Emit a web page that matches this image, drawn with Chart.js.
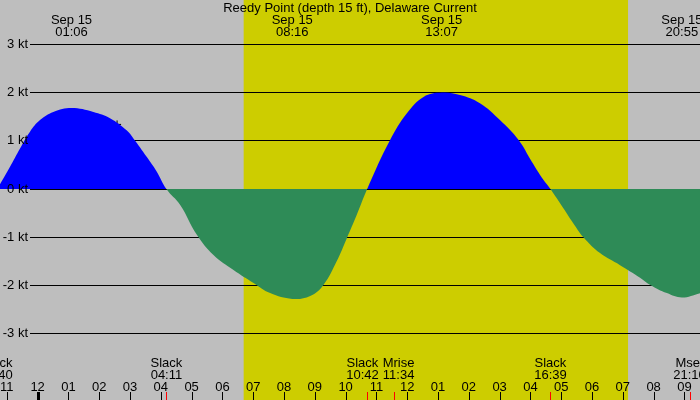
<!DOCTYPE html>
<html>
<head>
<meta charset="utf-8">
<title>Reedy Point current</title>
<script src="https://cdn.jsdelivr.net/npm/chart.js@4.4.1/dist/chart.umd.min.js"></script>
<style>
  html, body { margin: 0; padding: 0; background: #bebebe; }
  canvas { display: block; }
</style>
</head>
<body>
<canvas id="tide" width="700" height="400"></canvas>
<script>
"use strict";

const title = 'Reedy Point (depth 15 ft), Delaware Current'

// hours from midnight Sep 15 (negative = evening of Sep 14)
const hours = [-1.33, -1.221, -0.896, -0.571, -0.247, 0.078, 0.51, 1.10, 1.81, 2.35, 2.89, 3.11, 3.54, 3.87, 4.18,
	4.63, 5.17, 5.71, 6.36, 7.01, 7.55, 8.27, 8.85, 9.28, 9.71, 10.04, 10.36, 10.70,
	11.44, 11.99, 12.53, 13.12, 13.71, 14.36, 15.01, 15.61, 16.04, 16.42, 16.65,
	17.07, 17.39, 17.72, 18.26, 18.91, 19.56, 19.89, 20.43, 20.92, 21.51]
// current speed in knots (flood +, ebb -)
const knots = [0, 0.10, 0.46, 0.84, 1.19, 1.43, 1.60, 1.68, 1.60, 1.47, 1.22, 1.05, 0.67, 0.36, 0,
	-0.33, -0.95, -1.37, -1.68, -1.95, -2.16, -2.28, -2.22, -1.99, -1.50, -1.02, -0.54, 0,
	1.01, 1.57, 1.91, 2.00, 1.95, 1.78, 1.43, 1.02, 0.57, 0.19, 0,
	-0.40, -0.71, -1.00, -1.33, -1.58, -1.84, -1.99, -2.16, -2.25, -2.16]

const speedTicks = [3, 2, 1, 0, -1, -2, -3]

const hourTicks = [-1, 0, 1, 2, 3, 4, 5, 6, 7, 8, 9, 10, 11, 12, 13, 14, 15, 16, 17, 18, 19, 20, 21]
const hourLabels = ['11', '12', '01', '02', '03', '04', '05', '06', '07', '08', '09', '10',
	'11', '12', '01', '02', '03', '04', '05', '06', '07', '08', '09']

// max flood / ebb
const peakHours = [1.10, 8.267, 13.117, 20.917]
const peakDates = ['Sep 15', 'Sep 15', 'Sep 15', 'Sep 15']
const peakClock = ['01:06', '08:16', '13:07', '20:55']

// slack water and moon events
const eventHours = [-1.333, 4.183, 10.70, 11.567, 16.65, 21.167]
const eventNames = ['Slack', 'Slack', 'Slack', 'Mrise', 'Slack', 'Mset']
const eventClock = ['22:40', '04:11', '10:42', '11:34', '16:39', '21:10']

const sunrise = 6.69
const sunset = 19.17

const markHours = [2.58]
const markKnots = [1.34]

const FONT = '13px "Liberation Sans"'

// push apart labels that would collide
function spread(ctx, items, gap) {
	items.forEach(it => { it.w = Math.max(...it.lines.map(l => ctx.measureText(l).width)) })
	for (let i = 1; i < items.length; i++) {
		const a = items[i - 1], b = items[i]
		const need = (a.w + b.w) / 2 + gap
		const d = b.x - a.x
		if (d < need) {
			const s = (need - d) / 2
			a.x -= s
			b.x += s
		}
	}
}

const tidePlugin = {
	id: 'tide',
	beforeDraw(chart) {
		const {ctx, width, height} = chart
		const x = chart.scales.x
		ctx.save()
		ctx.fillStyle = '#bebebe'
		ctx.fillRect(0, 0, width, height)
		const x1 = x.getPixelForValue(sunrise)
		const x2 = x.getPixelForValue(sunset)
		ctx.fillStyle = '#cdcd00'
		ctx.fillRect(x1, 0, x2 - x1, height)
		ctx.restore()
	},
	beforeDatasetsDraw(chart) {
		const {ctx, width} = chart
		const y = chart.scales.y
		ctx.save()
		ctx.strokeStyle = '#000'
		ctx.lineWidth = 1
		speedTicks.forEach(v => {
			const py = Math.floor(y.getPixelForValue(v)) + 0.5
			ctx.beginPath()
			ctx.moveTo(30, py)
			ctx.lineTo(width, py)
			ctx.stroke()
		})
		ctx.restore()
	},
	afterDatasetsDraw(chart) {
		const {ctx, width, height} = chart
		const x = chart.scales.x
		const y = chart.scales.y
		ctx.save()
		ctx.font = FONT
		ctx.fillStyle = '#000'

		// speed labels
		ctx.textAlign = 'right'
		ctx.textBaseline = 'middle'
		speedTicks.forEach(v => {
			ctx.fillText(v + ' kt', 28, Math.floor(y.getPixelForValue(v)) + 0.5)
		})

		ctx.textBaseline = 'alphabetic'
		ctx.textAlign = 'center'
		ctx.fillText(title, width / 2, 12)

		// peak labels at top
		const peaks = peakHours.map((h, i) => ({x: x.getPixelForValue(h), lines: [peakDates[i], peakClock[i]]}))
		spread(ctx, peaks, 4)
		peaks.forEach(p => {
			ctx.fillText(p.lines[0], p.x, 24)
			ctx.fillText(p.lines[1], p.x, 36)
		})

		// event labels at bottom
		const events = eventHours.map((h, i) => ({x: x.getPixelForValue(h), lines: [eventNames[i], eventClock[i]]}))
		spread(ctx, events, 4)
		events.forEach(e => {
			ctx.fillText(e.lines[0], e.x, 367)
			ctx.fillText(e.lines[1], e.x, 379)
		})

		// hour labels and tick marks
		hourTicks.forEach((h, i) => {
			const px = x.getPixelForValue(h)
			ctx.fillText(hourLabels[i], px, 390.5)
			if (h === 0) {
				ctx.fillRect(Math.round(px) - 1, 392, 3, height - 392)
			} else {
				ctx.fillRect(Math.round(px), 392, 1, height - 392)
			}
		})

		ctx.fillStyle = '#ff0000'
		eventHours.forEach(h => {
			const px = x.getPixelForValue(h)
			ctx.fillRect(Math.round(px), 392, 1, height - 392)
		})
		ctx.restore()
	}
}

const chart = new Chart(document.getElementById('tide'), {
	type: 'line',
	data: {
		datasets: [{
			data: hours.map((h, i) => ({x: h, y: knots[i]})),
			borderColor: 'rgba(0,0,0,0)',
			borderWidth: 0,
			pointRadius: 0,
			tension: 0.4,
			fill: {target: 'origin', above: '#0000ff', below: '#2e8b57'}
		}, {
			type: 'scatter',
			data: markHours.map((h, i) => ({x: h, y: markKnots[i]})),
			pointStyle: 'cross',
			pointRadius: 4,
			borderColor: '#000',
			borderWidth: 1
		}]
	},
	options: {
		responsive: false,
		devicePixelRatio: 1,
		animation: false,
		layout: {padding: 0, autoPadding: false},
		scales: {
			x: {type: 'linear', min: -1.221, max: 21.506, display: false},
			// zero sits on pixel row 189, 48.2 px per knot
			y: {min: -4.3776, max: 3.9212, display: false}
		},
		plugins: {
			legend: {display: false},
			tooltip: {enabled: false}
		}
	},
	plugins: [tidePlugin]
})
</script>
</body>
</html>
